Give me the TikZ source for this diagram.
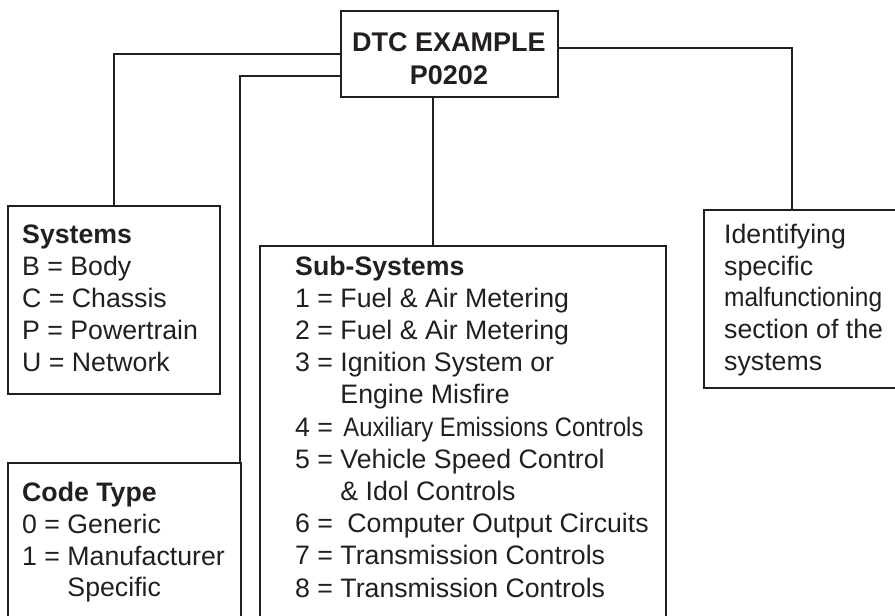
\documentclass[tikz,border=0pt]{standalone}
\usepackage{fontspec}
\setmainfont{Liberation Sans}
\usepackage{graphicx}
\definecolor{ink}{RGB}{35,31,32}
\begin{document}
\begin{tikzpicture}[x=1pt,y=-1pt,
  box/.style={draw=ink, line width=1.9pt, rectangle, inner sep=0pt, outer sep=0pt, anchor=north west},
  link/.style={draw=ink, line width=1.9pt},
  txt/.style={anchor=base west, inner sep=0pt, text=ink, font=\fontsize{26.7}{31}\selectfont},
  head/.style={txt, font=\fontsize{26.7}{31}\selectfont\bfseries},
  title/.style={anchor=base, inner sep=0pt, text=ink, font=\fontsize{27}{32}\selectfont\bfseries},
]
\useasboundingbox (0,0) rectangle (895,616);
\clip (0,0) rectangle (895,616);

% boxes
\node[box, minimum width=217pt, minimum height=86pt] (dtc) at (341,11) {};
\node[box, minimum width=212pt, minimum height=188pt] (sys) at (8,206) {};
\node[box, minimum width=233pt, minimum height=200pt] (code) at (8,463) {};
\node[box, minimum width=406pt, minimum height=400pt] (sub) at (260,246) {};
\node[box, minimum width=206pt, minimum height=178pt] (ident) at (704,210) {};

% connectors
\coordinate (subx) at ([xshift=-16.5pt]dtc.south);
\coordinate (codey) at ([yshift=-22pt]dtc.west);
\coordinate (identy) at ([yshift=6pt]dtc.east);
\coordinate (identx) at ([xshift=88pt]ident.north west);
\coordinate (codex) at ([xshift=-1pt]code.north east);
\draw[link] (dtc.west) -| (sys.north);
\draw[link] (codey) -| (codex);
\draw[link] (subx) -- (subx |- sub.north);
\draw[link] (identy) -| (identx);

% title
\node[title] (t1) at (449,51.7) {DTC EXAMPLE};
\node[title] (t2) at (449,84) {P0202};

% systems
\node[head] (s0) at (22,243) {Systems};
\node[txt] (s1) at (22,275.2) {B = Body};
\node[txt] (s2) at (22,307.4) {C = Chassis};
\node[txt] (s3) at (22,339.6) {P = Powertrain};
\node[txt] (s4) at (22,371.8) {U = Network};

% code type
\node[head] (c0) at (22,501.7) {Code Type};
\node[txt] (c1) at (22,533.4) {0 = Generic};
\node[txt] (c2) at (22,565.1) {1 = Manufacturer};
\node[txt] (c3) at (22,596.8) {\phantom{1 = }Specific};

% sub-systems
\node[head] (u0) at (295,275) {Sub-Systems};
\node[txt] (u1) at (295,307.2) {1 = Fuel \& Air Metering};
\node[txt] (u2) at (295,339.4) {2 = Fuel \& Air Metering};
\node[txt] (u3) at (295,371.6) {3 = Ignition System or};
\node[txt] (u4) at (295,403.8) {\phantom{3 = }Engine Misfire};
\node[txt] (u5) at (295,436) {4 = \hspace{3pt}\resizebox{300pt}{\height}{Auxiliary Emissions Controls}};
\node[txt] (u6) at (295,468.2) {5 = Vehicle Speed Control};
\node[txt] (u7) at (295,500.4) {\phantom{5 = }\& Idol Controls};
\node[txt] (u8) at (295,532.6) {6 = \hspace{7pt}Computer Output Circuits};
\node[txt] (u9) at (295,564.8) {7 = Transmission Controls};
\node[txt] (u10) at (295,597) {8 = Transmission Controls};

% identifying
\node[txt] (i1) at (724,243.3) {Identifying};
\node[txt] (i2) at (724,275) {specific};
\node[txt] (i3) at (724,306.7) {\resizebox{158pt}{\height}{malfunctioning}};
\node[txt] (i4) at (724,338.4) {section of the};
\node[txt] (i5) at (724,370.1) {systems};
\end{tikzpicture}
\end{document}
